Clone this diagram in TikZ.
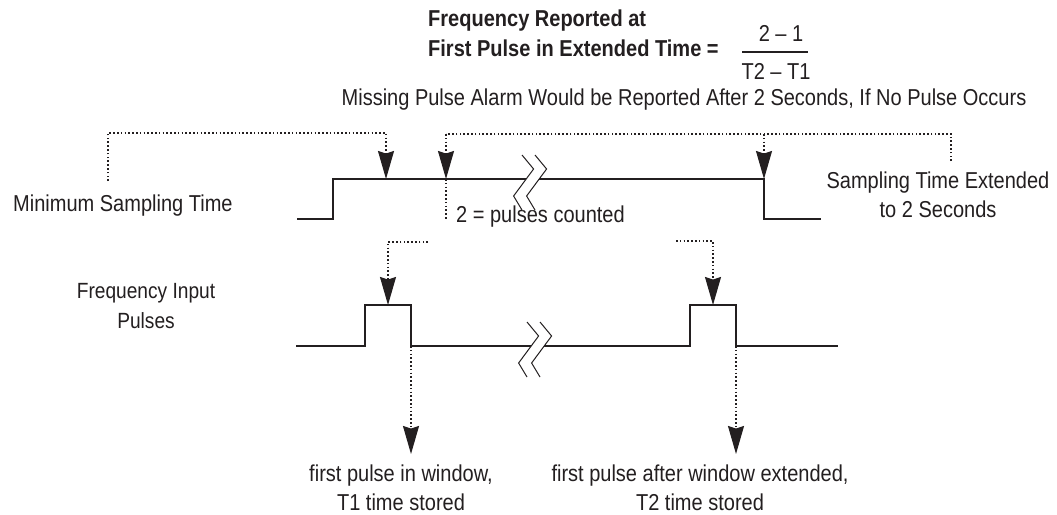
\documentclass[tikz,border=0pt]{standalone}
\usepackage{fontspec}
\setmainfont{Liberation Sans}[FakeStretch=0.87]
\usetikzlibrary{arrows.meta}

\definecolor{ink}{RGB}{35,31,32}

\tikzset{
  sig/.style={line width=1.5pt, line join=miter, draw=ink},
  dotline/.style={line width=1.3pt, draw=ink, dash pattern=on 1.6pt off 2.2pt},
  tip/.style={-{Stealth[length=28pt,width=16pt,inset=2.5pt,fill=ink]}},
  lbl/.style={inner sep=0pt, text=ink, font=\fontsize{23}{29}\selectfont},
  slbl/.style={inner sep=0pt, text=ink, font=\fontsize{22}{30}\selectfont},
  blbl/.style={inner sep=0pt, text=ink, font=\fontsize{23}{30}\selectfont\bfseries},
  brk/.pic={
    \fill[white] (0,-24) -- (11.6,-10) -- (-8.4,17) -- (0,31) -- (13,31) -- (4.6,17) -- (24.6,-10) -- (13,-24) -- cycle;
    \draw[ink, line width=1pt] (0,-24) -- (11.6,-10) -- (-8.4,17) -- (0,31);
    \draw[ink, line width=1pt] (13,-24) -- (24.6,-10) -- (4.6,17) -- (13,31);
  }
}

\begin{document}
\begin{tikzpicture}[x=1pt,y=-1pt]
\useasboundingbox (0,0) rectangle (1057,514);
\fill[white] (0,0) rectangle (1057,514);

% heading and formula
\node[blbl, align=left, anchor=west] (title) at (428,33) {Frequency Reported at\\First Pulse in Extended Time =};
\node[lbl] (num) at (781,33) {2 -- 1};
\node[lbl] (den) at (776,71) {T2 -- T1};
\draw[ink, line width=1.2pt] (742,52) -- (808,52);
\node[lbl] (alarm) at (684,100) {Missing Pulse Alarm Would be Reported After 2 Seconds, If No Pulse Occurs};

% side labels
\node[lbl, anchor=west] (minlbl) at (13,206) {Minimum Sampling Time};
\node[lbl, align=center] (extlbl) at (938,195) {Sampling Time Extended\\to 2 Seconds};
\node[lbl, anchor=west] (cnt) at (456,217) {2 = pulses counted};
\node[slbl, align=center] (inlbl) at (146,306) {Frequency Input\\Pulses};
\node[lbl, align=center] (t1lbl) at (401,488) {first pulse in window,\\T1 time stored};
\node[lbl, align=center] (t2lbl) at (700,488) {first pulse after window extended,\\T2 time stored};

% sampling window signal
\draw[sig] (297,219) -- (333,219) -- (333,179) -- (764,179) -- (764,219) -- (821,219);
\pic at (522,179) {brk};

% frequency input pulses
\draw[sig] (296,346) -- (365,346) -- (365,305) -- (411,305) -- (411,346) -- (690,346)
  -- (690,305) -- (736,305) -- (736,346) -- (838,346);
\pic at (527,346) {brk};

% marker points
\coordinate (a1) at (386,179);
\coordinate (a2) at (446,179);
\coordinate (a3) at (764,179);
\coordinate (p1) at (388,305);
\coordinate (p2) at (713,305);
\coordinate (f1) at (411,346);
\coordinate (f2) at (736,346);
\coordinate (e1) at (411,454);
\coordinate (e2) at (736,454);

% dotted callouts
\draw[dotline, tip] (108,181) -- (108,133) -| (a1);
\draw[dotline] (951,161) |- (446,134);
\draw[dotline, tip] (446,134) -- (a2);
\draw[dotline, tip] (764,134) -- (a3);
\draw[dotline] (a2) -- (446,219);
\draw[dotline, tip] (428,242) -| (p1);
\draw[dotline, tip] (676,241) -| (p2);
\draw[dotline, tip] (f1) -- (e1);
\draw[dotline, tip] (f2) -- (e2);
\end{tikzpicture}
\end{document}
